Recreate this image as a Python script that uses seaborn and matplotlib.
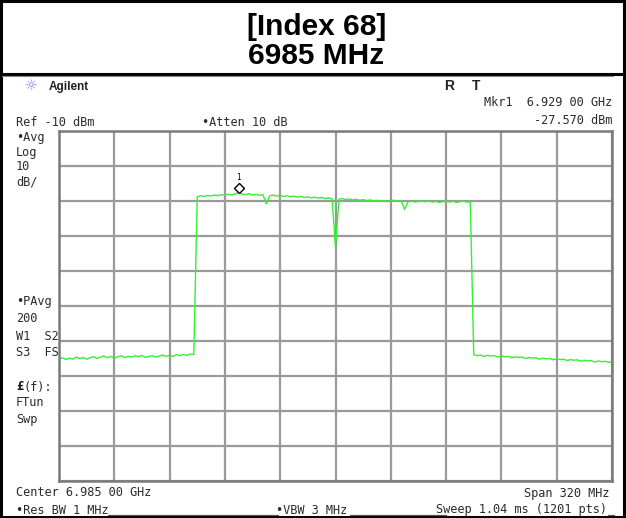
import numpy as np
import matplotlib
matplotlib.use("Agg")
import matplotlib.pyplot as plt
from matplotlib.lines import Line2D
from matplotlib.patches import Rectangle
from matplotlib.transforms import ScaledTranslation
import seaborn as sns

# Analyzer settings
center_mhz = 6985.0
span_mhz = 320.0
ref_dbm = -10.0
db_per_div = 10.0
n_div = 10

# Averaged trace, 2 MHz between points
noise_left = [-75.1, -74.8, -75.3, -74.9, -75.2, -74.6, -75.0, -74.7, -75.2, -74.8,
              -74.5, -75.0, -74.6, -74.3, -74.8, -74.4, -74.9, -74.5, -74.2, -74.7,
              -74.4, -74.6, -74.2, -74.5, -74.1, -74.7, -74.4, -74.2, -74.6, -74.3,
              -74.0, -74.4, -74.1, -74.4, -73.9, -74.2, -73.8, -74.1, -73.7, -73.9]
channel = [-28.8, -28.5, -28.7, -28.4, -28.6, -28.3, -28.5, -28.2, -28.4, -28.1,
           -28.3, -27.9, -27.57, -28.0, -28.2, -27.9, -28.3, -28.1, -28.4, -28.2,
           -30.8, -28.5, -28.3, -28.6, -28.4, -28.7, -28.5, -28.8, -28.6, -28.9,
           -28.7, -29.0, -28.8, -29.1, -28.9, -29.2, -29.0, -29.3, -29.1, -29.4,
           -43.2, -29.5, -29.3, -29.6, -29.4, -29.7, -29.5, -29.8, -29.6, -29.9,
           -29.7, -30.0, -29.8, -30.1, -29.9, -30.2, -30.0, -29.8, -30.1, -29.9,
           -32.4, -30.2, -30.0, -30.3, -30.1, -29.9, -30.2, -30.0, -30.3, -30.1,
           -30.4, -30.2, -30.0, -30.3, -30.1, -30.4, -30.2, -30.0, -30.3, -30.2]
noise_right = [-73.9, -74.2, -74.0, -74.4, -74.1, -74.3, -74.2, -74.6, -74.3, -74.5,
               -74.4, -74.8, -74.5, -74.7, -74.6, -75.0, -74.7, -74.9, -74.8, -75.2,
               -74.9, -75.1, -75.0, -75.4, -75.1, -75.3, -75.2, -75.6, -75.3, -75.5,
               -75.4, -75.8, -75.5, -75.7, -75.6, -76.0, -75.7, -75.9, -75.8, -76.1,
               -75.9]
levels = noise_left + channel + noise_right

marker_mhz = 6929.0
marker_dbm = -27.57

f_start = center_mhz - span_mhz / 2
f_stop = center_mhz + span_mhz / 2
freqs = np.linspace(f_start, f_stop, len(levels))

sns.set_style("white")
plt.rcParams["font.family"] = ["DejaVu Sans"]
plt.rcParams["text.color"] = "black"

W, H = 626, 518
fig = plt.figure(figsize=(W / 100, H / 100), dpi=100)


def fx(px):
    return px / W


def fy(py):
    return 1 - py / H


# graticule area
left, right, top, bottom = 59, 612, 131, 481
ax = fig.add_axes([fx(left), fy(bottom), fx(right - left), (bottom - top) / H])
ax.set_xlim(f_start, f_stop)
ax.set_ylim(ref_dbm - n_div * db_per_div, ref_dbm)
ax.set_xticks(np.linspace(f_start, f_stop, n_div + 1))
ax.set_yticks(np.linspace(ref_dbm - n_div * db_per_div, ref_dbm, n_div + 1))
ax.tick_params(length=0, labelbottom=False, labelleft=False)
ax.grid(True, color="#9a9a9a", linewidth=1.6)
for s in ax.spines.values():
    s.set_color("#7a7a7a")
    s.set_linewidth(1.8)

sns.lineplot(x=freqs, y=levels, ax=ax, color="#33f033", linewidth=1.0)
ax.set_xlabel("")
ax.set_ylabel("")

# marker 1, drawn just above the trace point
lift = ScaledTranslation(0, 4 / 100, fig.dpi_scale_trans)
ax.plot([marker_mhz], [marker_dbm], marker="D", markersize=5.5, markerfacecolor="white",
        markeredgecolor="black", markeredgewidth=1.0, linestyle="none", zorder=5,
        transform=ax.transData + lift)
ax.annotate("1", (marker_mhz, marker_dbm), xytext=(0, 11), textcoords="offset points",
            ha="center", va="center", fontsize=5.5, color="black")

# outer frame and header separator
fig.add_artist(Rectangle((0.0015, 0.002), 0.996, 0.996, transform=fig.transFigure,
                         fill=False, edgecolor="black", linewidth=2.2))
fig.add_artist(Line2D([0, 1], [fy(73.5), fy(73.5)], color="black", linewidth=2.2))
fig.add_artist(Line2D([fx(2), fx(613)], [fy(76), fy(76)], color="#888888", linewidth=0.8))

# header
fig.text(0.505, fy(27), "[Index 68]", ha="center", va="center", fontsize=21.5,
         fontweight="bold", family="Liberation Sans", color="black")
fig.text(0.505, fy(56), "6985 MHz", ha="center", va="center", fontsize=21.5,
         fontweight="bold", family="Liberation Sans", color="black")

mono = dict(family="DejaVu Sans Mono", fontsize=8.6, color="#2a2a2a", va="center")

fig.text(fx(31), fy(86), "\u263c", ha="center", va="center", fontsize=10, color="#7b7bff")
fig.text(fx(49), fy(87), "Agilent", ha="left", va="center", fontsize=8.5,
         fontweight="bold", family="Liberation Sans", color="#222222")
fig.text(fx(449), fy(86), "R", ha="center", va="center", fontsize=10,
         fontweight="bold", family="Liberation Sans", color="#222222")
fig.text(fx(476), fy(86), "T", ha="center", va="center", fontsize=10,
         fontweight="bold", family="Liberation Sans", color="#222222")
fig.text(fx(612), fy(103), "Mkr1  6.929 00 GHz", ha="right", **mono)
fig.text(fx(612), fy(120), "-27.570 dBm", ha="right", **mono)
fig.text(fx(16), fy(123), "Ref -10 dBm", ha="left", **mono)
fig.text(fx(202), fy(123), "\u2022Atten 10 dB", ha="left", **mono)

side = [("\u2022Avg", 137), ("Log", 152), ("10", 167), ("dB/", 182),
        ("\u2022PAvg", 302), ("200", 318), ("W1  S2", 336), ("S3  FS", 353),
        ("FTun", 403), ("Swp", 419)]
for txt, y in side:
    fig.text(fx(16), fy(y), txt, ha="left", **mono)
fig.text(fx(16), fy(387), "\u00a3", ha="left", va="center", fontsize=8.6,
         fontweight="bold", family="DejaVu Sans Mono", color="#111111")
fig.text(fx(23.5), fy(387), "(f):", ha="left", **mono)

fig.text(fx(16), fy(493), "Center 6.985 00 GHz", ha="left", **mono)
fig.text(fx(609), fy(493), "Span 320 MHz", ha="right", **mono)
fig.text(fx(16), fy(510), "\u2022Res BW 1 MHz", ha="left", **mono)
fig.text(fx(276), fy(510), "\u2022VBW 3 MHz", ha="left", **mono)
fig.text(fx(607), fy(510), "Sweep 1.04 ms (1201 pts)", ha="right", **mono)
for x0, x1 in [(108, 278), (350, 446), (608, 614)]:
    fig.add_artist(Line2D([fx(x0), fx(x1)], [fy(514.5), fy(514.5)], color="#555555", linewidth=0.9))

fig.savefig("out.png", dpi=100)
